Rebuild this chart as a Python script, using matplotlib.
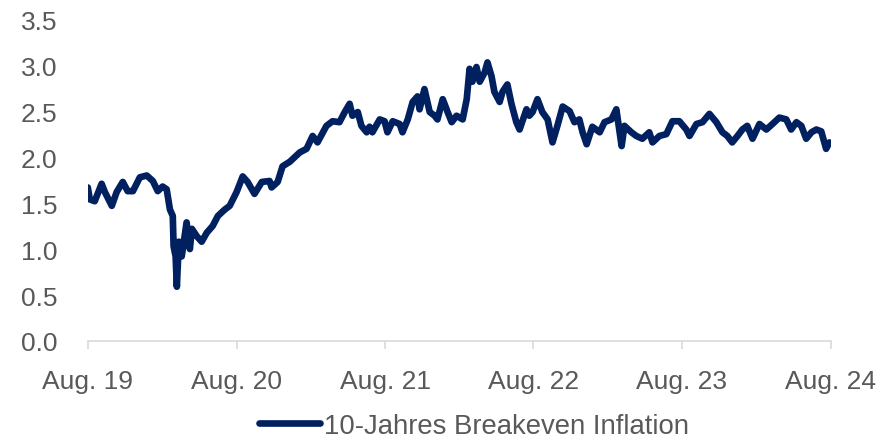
import matplotlib as mpl
mpl.use('Agg')
import matplotlib.pyplot as plt
import numpy as np

# 10-year breakeven inflation
dates = ['2019-08-01', '2019-08-06', '2019-08-18', '2019-09-04', '2019-09-12', '2019-09-29',
         '2019-10-11', '2019-10-26', '2019-11-07', '2019-11-20', '2019-12-07', '2019-12-24',
         '2020-01-08', '2020-01-20', '2020-02-01', '2020-02-11', '2020-02-19', '2020-02-26',
         '2020-02-28', '2020-03-04', '2020-03-07', '2020-03-12', '2020-03-19', '2020-03-31',
         '2020-04-08', '2020-04-13', '2020-04-25', '2020-05-07', '2020-05-20', '2020-06-03',
         '2020-06-16', '2020-07-03', '2020-07-15', '2020-08-01', '2020-08-16', '2020-08-28',
         '2020-09-14', '2020-10-02', '2020-10-21', '2020-10-26', '2020-11-10', '2020-11-22',
         '2020-12-10', '2021-01-03', '2021-01-20', '2021-02-04', '2021-02-16', '2021-03-10',
         '2021-03-25', '2021-04-11', '2021-04-24', '2021-05-06', '2021-05-13', '2021-05-26',
         '2021-06-04', '2021-06-17', '2021-06-24', '2021-07-01', '2021-07-19', '2021-07-31',
         '2021-08-07', '2021-08-20', '2021-09-06', '2021-09-13', '2021-09-26', '2021-10-08',
         '2021-10-20', '2021-10-25', '2021-11-06', '2021-11-19', '2021-12-01', '2021-12-08',
         '2021-12-21', '2022-01-02', '2022-01-12', '2022-01-24', '2022-02-08', '2022-02-18',
         '2022-02-25', '2022-03-04', '2022-03-14', '2022-03-22', '2022-04-03', '2022-04-10',
         '2022-04-20', '2022-04-27', '2022-05-10', '2022-05-17', '2022-05-29', '2022-06-08',
         '2022-06-20', '2022-06-28', '2022-07-15', '2022-07-22', '2022-07-30', '2022-08-11',
         '2022-08-23', '2022-09-05', '2022-09-17', '2022-09-29', '2022-10-12', '2022-10-29',
         '2022-11-10', '2022-11-22', '2022-11-30', '2022-12-10', '2022-12-24', '2023-01-11',
         '2023-01-23', '2023-02-09', '2023-02-21', '2023-03-06', '2023-03-13', '2023-03-30',
         '2023-04-11', '2023-04-26', '2023-05-13', '2023-05-21', '2023-06-07', '2023-06-24',
         '2023-07-09', '2023-07-26', '2023-08-12', '2023-08-20', '2023-09-06', '2023-09-21',
         '2023-10-08', '2023-10-25', '2023-11-09', '2023-11-21', '2023-12-03', '2023-12-16',
         '2023-12-28', '2024-01-09', '2024-01-22', '2024-02-08', '2024-02-25', '2024-03-11',
         '2024-03-28', '2024-04-14', '2024-04-26', '2024-05-09', '2024-05-21', '2024-06-02',
         '2024-06-15', '2024-06-27', '2024-07-09', '2024-07-21', '2024-07-29']
values = [1.67, 1.54, 1.52, 1.71, 1.62, 1.47,
          1.62, 1.73, 1.63, 1.63, 1.78, 1.80,
          1.74, 1.63, 1.68, 1.65, 1.43, 1.36,
          1.03, 0.92, 0.59, 1.08, 0.92, 1.29,
          1.00, 1.22, 1.14, 1.08, 1.18, 1.25,
          1.36, 1.43, 1.47, 1.62, 1.79, 1.73,
          1.60, 1.73, 1.74, 1.67, 1.73, 1.90,
          1.95, 2.05, 2.09, 2.23, 2.16, 2.34,
          2.39, 2.38, 2.49, 2.58, 2.45, 2.49,
          2.34, 2.27, 2.33, 2.27, 2.41, 2.39,
          2.27, 2.39, 2.36, 2.27, 2.41, 2.60,
          2.66, 2.52, 2.74, 2.49, 2.45, 2.41,
          2.63, 2.49, 2.38, 2.45, 2.41, 2.63,
          2.96, 2.82, 2.98, 2.82, 2.92, 3.03,
          2.88, 2.71, 2.60, 2.71, 2.79, 2.58,
          2.38, 2.30, 2.52, 2.45, 2.49, 2.63,
          2.49, 2.41, 2.16, 2.34, 2.55, 2.50,
          2.38, 2.41, 2.27, 2.14, 2.33, 2.27,
          2.38, 2.41, 2.52, 2.12, 2.34, 2.27,
          2.23, 2.20, 2.27, 2.16, 2.23, 2.25,
          2.39, 2.39, 2.30, 2.23, 2.36, 2.38,
          2.47, 2.38, 2.27, 2.23, 2.16, 2.23,
          2.30, 2.34, 2.20, 2.36, 2.30, 2.36,
          2.43, 2.41, 2.30, 2.38, 2.34, 2.20,
          2.27, 2.30, 2.28, 2.09, 2.16]
seriesLabel = '10-Jahres Breakeven Inflation'
tickDates = ['2019-08-01', '2020-08-01', '2021-08-01', '2022-08-01', '2023-08-01', '2024-08-01']
tickLabels = ['Aug. 19', 'Aug. 20', 'Aug. 21', 'Aug. 22', 'Aug. 23', 'Aug. 24']
yTicks = [0.0, 0.5, 1.0, 1.5, 2.0, 2.5, 3.0, 3.5]

navy = '#002060'
gray = '#595959'
lineGray = '#d9d9d9'

plt.rcParams['font.family'] = ['Liberation Sans', 'DejaVu Sans']
plt.rcParams['font.size'] = 19

fig = plt.figure(figsize=(8.96, 4.39), dpi=100)
ax = fig.add_axes([0.098, 0.221, 0.829, 0.733])

x = np.array(dates, dtype='datetime64[D]')
ax.plot(x, values, color=navy, linewidth=4.8, solid_joinstyle='round', solid_capstyle='round', label=seriesLabel)

xt = np.array(tickDates, dtype='datetime64[D]')
ax.set_xlim(xt[0], xt[-1])
ax.set_xticks(xt)
ax.set_xticklabels(tickLabels, color=gray)
ax.set_ylim(0, 3.5)
ax.set_yticks(yTicks)
ax.set_yticklabels(['%.1f' % v for v in yTicks], color=gray)

for s in ['top', 'right', 'left']:
    ax.spines[s].set_visible(False)
ax.spines['bottom'].set_color(lineGray)
ax.spines['bottom'].set_linewidth(1.2)
ax.tick_params(axis='x', direction='out', length=6, width=1.2, color=lineGray, pad=14)
ax.tick_params(axis='y', length=0, pad=22)

fig.legend(loc='center', bbox_to_anchor=(0.529, 0.028), frameon=False, fontsize=19.8,
           handlelength=2.2, handletextpad=0.15, labelcolor=gray)

plt.savefig('out.png', dpi=100)
